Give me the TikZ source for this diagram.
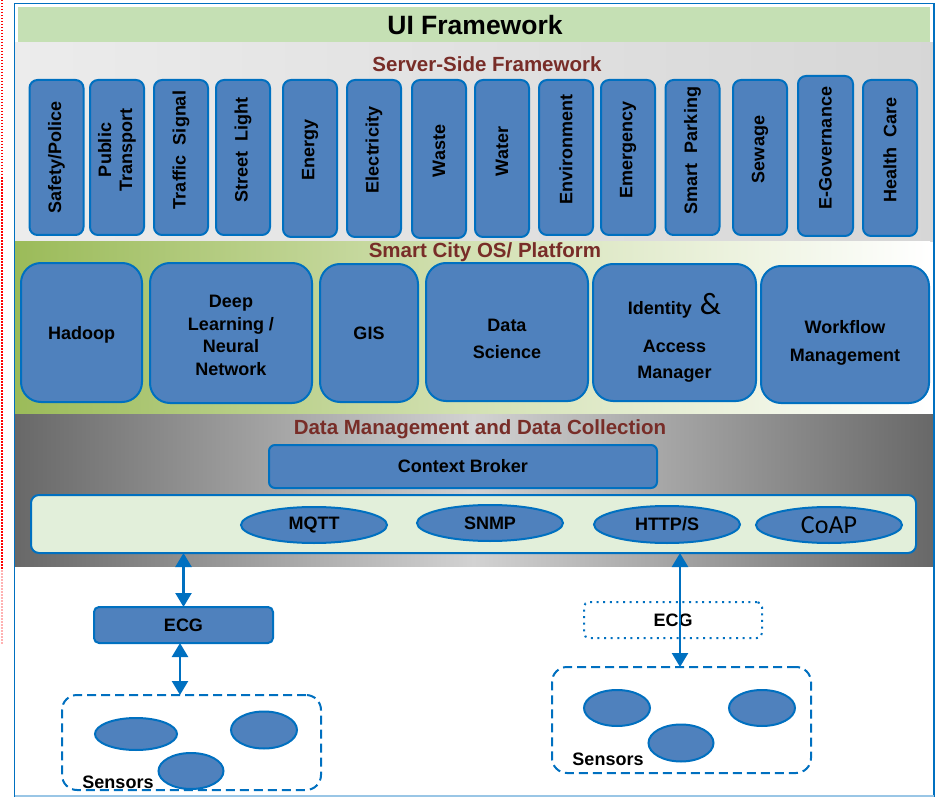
\documentclass[tikz,border=0pt]{standalone}
\usepackage{fontspec}
\setmainfont{Liberation Sans}
\newfontfamily\calfont{Carlito}
\usetikzlibrary{arrows.meta,shapes.geometric}
\definecolor{boxfill}{HTML}{4F81BD}
\definecolor{boxline}{HTML}{0070C0}
\definecolor{titlered}{RGB}{120,45,40}
\definecolor{uigreen}{HTML}{C5E0B4}
\definecolor{protofill}{HTML}{E2EFDA}
\definecolor{platgreen}{HTML}{9BBB59}
\definecolor{platmid}{HTML}{D3E1B3}
\definecolor{darkgray}{HTML}{686868}
\definecolor{midgray}{HTML}{D2D2D2}
\begin{document}
\begin{tikzpicture}[x=1pt,y=-1pt,
  lbl/.style={font=\bfseries\fontsize{18}{21}\selectfont, align=center, inner sep=0pt},
  bx/.style={draw=boxline, fill=boxfill, line width=2pt, inner sep=0pt, outer sep=0pt, lbl},
  vbox/.style={bx, rounded corners=8pt, minimum width=54pt},
  vtext/.style={lbl, rotate=90},
  pbox/.style={bx, rounded corners=20pt},
  ell/.style={bx, ellipse},
  sens/.style={draw=boxline, fill=boxfill, line width=2pt, ellipse, inner sep=0pt},
  group/.style={draw=boxline, line width=2pt, dash pattern=on 9pt off 5pt, rounded corners=15pt, minimum width=259pt, inner sep=0pt, outer sep=0pt},
  title/.style={font=\bfseries\fontsize{20.5}{24}\selectfont, text=titlered, inner sep=0pt},
  biarrow/.style={draw=boxline, line width=2.5pt, {Triangle[width=16pt,length=14pt]}-{Triangle[width=16pt,length=14pt]}}
]
\useasboundingbox (0,0) rectangle (938,797);
\fill[white] (0,0) rectangle (938,797);
% left red dotted margin line
\draw[red, dash pattern=on 1.5pt off 1.5pt, line width=2pt] (1.5,0) -- (1.5,570);
\draw[red!30, dash pattern=on 1.5pt off 1.5pt, line width=2pt] (1.5,570) -- (1.5,645);
% layer backgrounds
\fill[uigreen] (18,7) rectangle (930,43);
\shade[left color=gray!15, right color=gray!32] (14,43) rectangle (933,242);
\shade[left color=platgreen, right color=white, middle color=platmid] (14,242) rectangle (930,414);
\shade[left color=darkgray, right color=darkgray, middle color=midgray] (14,414) rectangle (933,566);
% outer frame
\draw[boxline, line width=1.5pt] (14.5,797) -- (14.5,3.5) -- (934,3.5) -- (934,797);
\draw[boxline!40, line width=1.5pt] (14.5,796) -- (934,796);
% titles
\node[inner sep=0pt, font=\bfseries\fontsize{26.5}{30}\selectfont] (ui) at (475,25) {UI Framework};
\node[title] (ssf) at (487,64) {Server-Side Framework};
\node[title] (scos) at (485,252) {Smart City OS/ Platform};
\node[title] (dmdc) at (480,429) {Data Management and Data Collection};
% server-side application boxes
\node[vbox, minimum height=155pt] (b1) at (56.5,157.5) {};
\node[vtext] at (b1.center) {Safety/Police};
\node[vbox, minimum height=155pt] (b2) at (117,157.5) {};
\node[vtext] at ([yshift=7.5pt]b2.center) {Public\\Transport};
\node[vbox, minimum height=155pt] (b3) at (181,157.5) {};
\node[vtext] at ([yshift=7.5pt]b3.center) {Traffic\ \ Signal};
\node[vbox, minimum height=155pt] (b4) at (243,157.5) {};
\node[vtext] at ([yshift=7.5pt]b4.center) {Street\ \ Light};
\node[vbox, minimum height=157pt] (b5) at (310,158.5) {};
\node[vtext] at ([yshift=8.5pt]b5.center) {Energy};
\node[vbox, minimum height=157pt] (b6) at (374,158.5) {};
\node[vtext] at ([yshift=8.5pt]b6.center) {Electricity};
\node[vbox, minimum height=158pt] (b7) at (439,159) {};
\node[vtext] at ([yshift=8pt]b7.center) {Waste};
\node[vbox, minimum height=157pt] (b8) at (502,158.5) {};
\node[vtext] at ([yshift=7pt]b8.center) {Water};
\node[vbox, minimum height=155pt] (b9) at (566,157.5) {};
\node[vtext] at ([yshift=8pt]b9.center) {Environment};
\node[vbox, minimum height=155pt] (b10) at (628,157.5) {};
\node[vtext] at ([yshift=7.5pt]b10.center) {Emergency};
\node[vbox, minimum height=155pt] (b11) at (692.5,157.5) {};
\node[vtext] at ([yshift=7pt]b11.center) {Smart\ \ Parking};
\node[vbox, minimum height=155pt] (b12) at (760,157.5) {};
\node[vtext] at ([yshift=8pt]b12.center) {Sewage};
\node[vbox, minimum height=160pt, minimum width=55pt] (b13) at (825.5,156) {};
\node[vtext] at ([yshift=8pt]b13.center) {E-Governance};
\node[vbox, minimum height=156pt] (b14) at (890,158) {};
\node[vtext] at ([yshift=8pt]b14.center) {Health\ \ Care};
% platform boxes
\node[pbox, minimum width=121pt, minimum height=139pt] (hadoop) at (81.5,332.5) {\rule{0pt}{17pt}Hadoop};
\node[pbox, minimum width=162pt, minimum height=140pt, font=\bfseries\fontsize{18}{22.5}\selectfont] (deep) at (231,333) {\rule{0pt}{17pt}Deep\\Learning /\\Neural\\Network};
\node[pbox, minimum width=98pt, minimum height=138pt] (gis) at (369,333) {GIS};
\node[pbox, minimum width=162pt, minimum height=138pt, font=\bfseries\fontsize{18}{27}\selectfont] (ds) at (507,332) {\rule{0pt}{27pt}Data\\Science};
\node[pbox, minimum width=163pt, minimum height=137pt, font=\bfseries\fontsize{18}{26}\selectfont] (iam) at (674.5,332.5) {\rule{0pt}{31pt}Identity\hspace{0.45em}{\calfont\mdseries\fontsize{31}{31}\selectfont\&}\\[12pt]Access\\Manager};
\node[pbox, minimum width=168pt, minimum height=137pt, font=\bfseries\fontsize{18}{28}\selectfont] (wf) at (845,334.5) {\rule{0pt}{29pt}Workflow\\Management};
% data management
\node[bx, rounded corners=6pt, minimum width=388pt, minimum height=43pt] (cb) at (463,466.5) {Context Broker};
\node[draw=boxline, fill=protofill, line width=2pt, rounded corners=8pt, minimum width=885pt, minimum height=58pt, inner sep=0pt, outer sep=0pt] (proto) at (473.5,524) {};
\node[ell, minimum width=146pt, minimum height=36pt] (mqtt) at (314,525) {MQTT};
\node[ell, minimum width=146pt, minimum height=36pt] (snmp) at (490,523) {SNMP};
\node[ell, minimum width=146pt, minimum height=37pt] (http) at (667,524.5) {HTTP/S};
\node[ell, minimum width=146pt, minimum height=36pt, font=\calfont\fontsize{26}{28}\selectfont] (coap) at (829,525) {CoAP};
% edge side
\node[bx, rounded corners=5pt, minimum width=179pt, minimum height=36pt] (ecgL) at (183.5,625) {ECG};
\node[draw=boxline, line width=2pt, dash pattern=on 2pt off 4.6pt, rounded corners=5pt, minimum width=178pt, minimum height=36pt, lbl, outer sep=0pt] (ecgR) at (673,620) {ECG};
\node[group, minimum height=95pt] (sensL) at (191.5,742.5) {};
\node[group, minimum height=106pt] (sensR) at (681.5,720) {};
\node[lbl] (slblL) at (118,782) {Sensors};
\node[lbl] (slblR) at (608,759) {Sensors};
\node[sens, minimum width=82pt, minimum height=32pt] (sL1) at (136,734) {};
\node[sens, minimum width=66pt, minimum height=37pt] (sL2) at (264,730) {};
\node[sens, minimum width=65pt, minimum height=36pt] (sL3) at (191,771) {};
\node[sens, minimum width=66pt, minimum height=36pt] (sR1) at (617,708) {};
\node[sens, minimum width=66pt, minimum height=36pt] (sR2) at (762,708) {};
\node[sens, minimum width=65pt, minimum height=37pt] (sR3) at (681,743) {};
% connectors
\draw[biarrow] (ecgL.north) -- (ecgL.north |- proto.south);
\draw[biarrow] ([xshift=-3.5pt]ecgL.south) -- ([xshift=-3.5pt]ecgL.south |- sensL.north);
\draw[biarrow] ([xshift=-1.5pt]sensR.north) -- ([xshift=-1.5pt]sensR.north |- proto.south);
\end{tikzpicture}
\end{document}
